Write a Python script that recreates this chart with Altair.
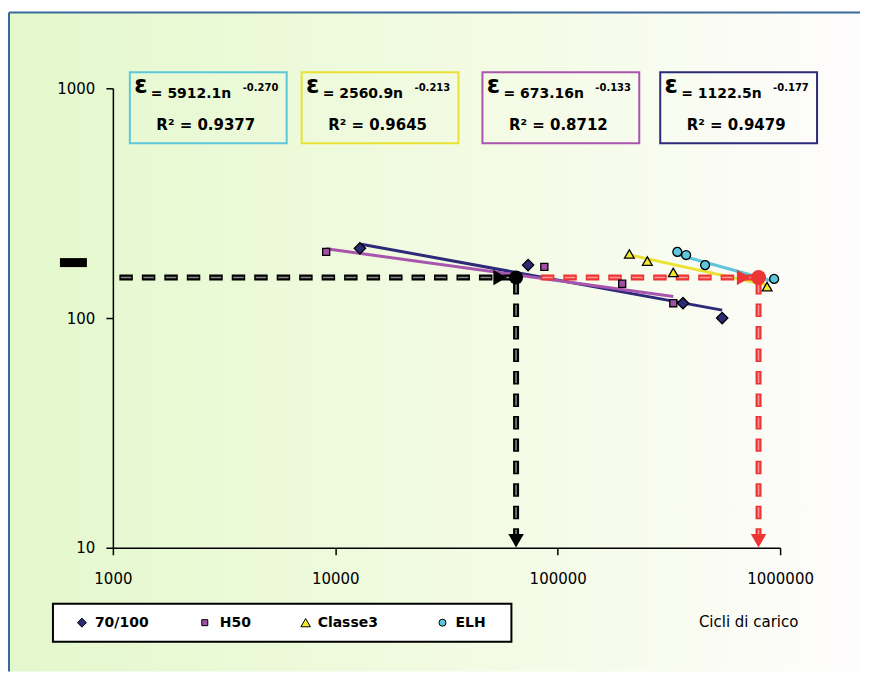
import altair as alt
import pandas as pd

# ---------------- data ----------------
series_names = ["70/100", "H50", "Classe3", "ELH"]

n_7010 = [12900, 73600, 366000, 549000]
eps_7010 = [201, 170, 116, 100]
n_h50 = [9100, 87100, 195000, 331000]
eps_h50 = [194, 167, 141, 116]
n_cl3 = [210000, 253000, 331000, 874000]
eps_cl3 = [190, 177, 158, 137]
n_elh = [345000, 378000, 460000, 940000]
eps_elh = [194, 188, 170, 148]

# power-law trend lines printed on the chart:  eps = a * n^b
trend_a = [1122.5, 673.16, 2560.9, 5912.1]
trend_b = [-0.177, -0.133, -0.213, -0.270]
label_a = ["1122.5", "673.16", "2560.9", "5912.1"]
label_b = ["-0.177", "-0.133", "-0.213", "-0.270"]
label_r2 = ["0.9479", "0.8712", "0.9645", "0.9377"]

# reading guides (eps = 150)
guide_eps = 150
guide_n = [65000, 800000]
guide_start_n = [1000, 84000]
guide_bottom = 10

x_domain = [1000, 1000000]
y_domain = [10, 1000]
x_ticks = [1000, 10000, 100000, 1000000]
y_ticks = [10, 100, 1000]

fill_colors = ["#2d2a74", "#a24fa8", "#f2ea2a", "#5cc8dc"]
line_colors = ["#2e2a7a", "#a855ad", "#e9e233", "#5dc6dc"]
shapes = ["diamond", "square", "triangle-up", "circle"]
sizes = [130, 50, 95, 80]
legend_sizes = [81, 36, 90, 49]
box_order = [3, 2, 1, 0]          # boxes left-to-right: ELH, Classe3, H50, 70/100
box_left = [17, 189, 370, 548]    # layout (px in plot coordinates)
legend_sym_x = [-31, 92, 193, 330]
legend_lab_x = [-18, 107, 205, 343]

FONT = "DejaVu Sans"

# ---------------- tables ----------------
all_n = [n_7010, n_h50, n_cl3, n_elh]
all_eps = [eps_7010, eps_h50, eps_cl3, eps_elh]
rows = []
for s, ns, es in zip(series_names, all_n, all_eps):
    for n, e in zip(ns, es):
        rows.append({"series": s, "n": n, "eps": e})
pts = pd.DataFrame(rows)

trows = []
for s, ns, a, b in zip(series_names, all_n, trend_a, trend_b):
    trows.append({"series": s, "n": min(ns), "a": a, "b": b})
    trows.append({"series": s, "n": max(ns), "a": a, "b": b})
trend_df = pd.DataFrame(trows)

eq_df = pd.DataFrame({
    "series": series_names,
    "sym": ["ε"] * 4,
    "a_txt": ["= " + a + "n" for a in label_a],
    "b_txt": label_b,
    "r2_txt": ["R² = " + r for r in label_r2],
})
leg_df = pd.DataFrame({"series": series_names})

one = pd.DataFrame({"k": [0]})

# ---------------- encodings ----------------
x_axis = alt.Axis(values=x_ticks, format="d", labelFont=FONT, labelFontSize=15,
                  labelColor="black", labelPadding=17, tickSize=7, tickColor="black",
                  tickWidth=1.5, domainColor="black", domainWidth=1.5, grid=False,
                  title="Cicli di carico", titleFont=FONT, titleFontSize=15,
                  titleFontWeight="normal", titleColor="black", titleX=636, titleY=74,
                  titleAlign="center", titleBaseline="middle", zindex=1,
                  labelFlush=False, labelOverlap=False)
y_axis = alt.Axis(values=y_ticks, format="d", labelFont=FONT, labelFontSize=15,
                  labelColor="black", labelPadding=11, tickSize=7, tickColor="black",
                  tickWidth=1.5, domainColor="black", domainWidth=1.5, grid=False,
                  title=None, zindex=1, labelFlush=False, labelOverlap=False)
x_enc = alt.X("n:Q", scale=alt.Scale(type="log", domain=x_domain, nice=False), axis=x_axis)
y_enc = alt.Y("eps:Q", scale=alt.Scale(type="log", domain=y_domain, nice=False), axis=y_axis)

shape_scale = alt.Scale(domain=series_names, range=shapes)
fill_scale = alt.Scale(domain=series_names, range=fill_colors)

# ---------------- background & frame ----------------
bg = alt.Chart(one).mark_rect(
    fill=alt.LinearGradient(gradient="linear",
                            stops=[alt.GradientStop(color="#e3f8cc", offset=0),
                                   alt.GradientStop(color="#f3fbe3", offset=0.55),
                                   alt.GradientStop(color="#fefcfd", offset=1)],
                            x1=0, x2=1, y1=0, y2=0)
).encode(x=alt.value(-104), x2=alt.value(748), y=alt.value(-76), y2=alt.value(584))

frame_left = alt.Chart(one).mark_rule(color="#3a6a9a", strokeWidth=2).encode(
    x=alt.value(-104), y=alt.value(-76), y2=alt.value(584))
frame_top = alt.Chart(one).mark_rule(color="#3a6a9a", strokeWidth=2).encode(
    x=alt.value(-104), x2=alt.value(748), y=alt.value(-76))

ytitle = alt.Chart(one).mark_rect(color="black").encode(
    x=alt.value(-53), x2=alt.value(-26), y=alt.value(170), y2=alt.value(179))

layers = [bg, frame_left, frame_top, ytitle]

# ---------------- equation boxes ----------------
for k, si in enumerate(box_order):
    s = series_names[si]
    x0 = box_left[k]
    base = alt.Chart(eq_df).transform_filter(alt.datum.series == s)
    layers.append(base.mark_rect(fillOpacity=0, stroke=line_colors[si], strokeWidth=2).encode(
        x=alt.value(x0), x2=alt.value(x0 + 157), y=alt.value(-16), y2=alt.value(55)))
    layers.append(base.mark_text(font=FONT, fontWeight="bold", fontSize=24, align="center",
                                 baseline="alphabetic", color="black").encode(
        x=alt.value(x0 + 11), y=alt.value(5), text="sym:N"))
    layers.append(base.mark_text(font=FONT, fontWeight="bold", fontSize=14, align="left",
                                 baseline="alphabetic", color="black").encode(
        x=alt.value(x0 + 21), y=alt.value(10), text="a_txt:N"))
    layers.append(base.mark_text(font=FONT, fontWeight="bold", fontSize=10, align="left",
                                 baseline="alphabetic", color="black").encode(
        x=alt.value(x0 + 113), y=alt.value(3), text="b_txt:N"))
    layers.append(base.mark_text(font=FONT, fontWeight="bold", fontSize=15, align="center",
                                 baseline="alphabetic", color="black").encode(
        x=alt.value(x0 + 76), y=alt.value(42), text="r2_txt:N"))

# ---------------- legend (bottom-left box) ----------------
layers.append(alt.Chart(one).mark_rect(fill="white", stroke="black", strokeWidth=2).encode(
    x=alt.value(-60), x2=alt.value(399), y=alt.value(516), y2=alt.value(554)))
for i, s in enumerate(series_names):
    lb = alt.Chart(leg_df).transform_filter(alt.datum.series == s)
    layers.append(lb.mark_point(opacity=1, fillOpacity=1, stroke="black", strokeWidth=1).encode(
        x=alt.value(legend_sym_x[i]), y=alt.value(535),
        shape=alt.Shape("series:N", scale=shape_scale, legend=None),
        fill=alt.Fill("series:N", scale=fill_scale, legend=None),
        size=alt.value(legend_sizes[i])))
    layers.append(lb.mark_text(font=FONT, fontWeight="bold", fontSize=14, align="left",
                               baseline="alphabetic", color="black").encode(
        x=alt.value(legend_lab_x[i]), y=alt.value(539), text="series:N"))

# ---------------- trend lines ----------------
trend = alt.Chart(trend_df).transform_calculate(
    eps="datum.a * pow(datum.n, datum.b)"
).mark_line(strokeWidth=3).encode(
    x=x_enc, y=y_enc,
    stroke=alt.Stroke("series:N", scale=alt.Scale(domain=series_names, range=line_colors), legend=None),
    detail="series:N",
)
layers.append(trend)

# ---------------- reading guides ----------------
guide_colors = [("black", "#8c8c8c"), ("#ee3535", "#ff9a9a")]
for gi in range(2):
    outer, inner = guide_colors[gi]
    hseg = pd.DataFrame({"n": [guide_start_n[gi]], "n2": [guide_n[gi]],
                         "eps": [guide_eps], "eps2": [guide_eps]})
    vseg = pd.DataFrame({"n": [guide_n[gi]], "n2": [guide_n[gi]],
                         "eps": [guide_eps], "eps2": [guide_bottom]})
    h_off = 16 if gi == 0 else 0
    for seg, off in ((hseg, h_off), (vseg, 19)):
        layers.append(alt.Chart(seg).mark_rule(color=outer, strokeWidth=6,
                                               strokeDash=[13.5, 9], strokeDashOffset=off).encode(
            x=x_enc, x2="n2:Q", y=y_enc, y2="eps2:Q"))
        layers.append(alt.Chart(seg).mark_rule(color=inner, strokeWidth=1.5,
                                               strokeDash=[10.5, 12], strokeDashOffset=off - 1.5).encode(
            x=x_enc, x2="n2:Q", y=y_enc, y2="eps2:Q"))
    dot = pd.DataFrame({"n": [guide_n[gi]], "eps": [guide_eps]})
    bot = pd.DataFrame({"n": [guide_n[gi]], "eps": [guide_bottom]})
    layers.append(alt.Chart(dot).mark_point(shape="triangle-right", size=240, filled=True,
                                            color=outer, opacity=1,
                                            xOffset=-16 if gi == 0 else -15).encode(x=x_enc, y=y_enc))
    layers.append(alt.Chart(bot).mark_point(shape="triangle-down", size=240, filled=True,
                                            color=outer, opacity=1, yOffset=-7).encode(x=x_enc, y=y_enc))
    layers.append(alt.Chart(dot).mark_point(shape="circle", size=196 if gi == 0 else 225,
                                            filled=True, color=outer, opacity=1).encode(x=x_enc, y=y_enc))

# ---------------- data points ----------------
for i, s in enumerate(series_names):
    layers.append(alt.Chart(pts).transform_filter(alt.datum.series == s).mark_point(
        opacity=1, fillOpacity=1, stroke="black", strokeWidth=1.3, size=sizes[i]).encode(
        x=x_enc, y=y_enc,
        shape=alt.Shape("series:N", scale=shape_scale, legend=None),
        fill=alt.Fill("series:N", scale=fill_scale, legend=None),
    ))

chart = alt.layer(*layers).properties(
    width=668, height=460,
    padding={"left": 0, "top": 3, "right": 0, "bottom": 0},
).configure_view(stroke=None).configure(background="white")

chart.save("out.html", embed_options={"renderer": "svg", "actions": False})
